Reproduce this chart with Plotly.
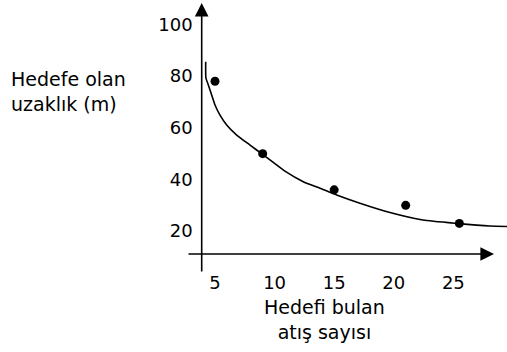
"""Hedefe olan uzaklık vs hedefi bulan atış sayısı."""

import plotly.graph_objects as go

# measured points
shots = [5, 9, 15, 21, 25.5]
distance = [78, 50, 36, 30, 23]

# fitted curve
curve_x = [4.22, 4.24, 4.44, 4.72, 5.0, 5.42, 5.98, 6.82, 7.94, 9.05, 9.89,
           10.87, 12.41, 13.81, 15.21, 17.16, 19.68, 22.45, 25.28, 28.07, 29.5]
curve_y = [85.6, 79.2, 76.6, 72.7, 68.8, 64.9, 61.1, 57.2, 53.3, 49.5, 46.6,
           43.2, 39.1, 36.6, 34.0, 30.8, 27.2, 24.3, 23.0, 22.0, 21.8]

x_ticks = [5, 10, 15, 20, 25]
y_ticks = [20, 40, 60, 80, 100]

W, H = 507, 352
FONT = "DejaVu Sans"


def px_x(v):
    return v / W


def px_y(v):
    return 1 - v / H


fig = go.Figure()

fig.add_trace(go.Scatter(
    x=curve_x, y=curve_y, mode="lines",
    line=dict(color="black", width=1.6, shape="spline", smoothing=0.5),
    hoverinfo="skip",
))
fig.add_trace(go.Scatter(
    x=shots, y=distance, mode="markers",
    marker=dict(color="black", size=9),
))

# axis lines with arrow heads
fig.add_annotation(x=px_x(201.7), y=px_y(3), xref="paper", yref="paper",
                   ax=0, ay=270, axref="pixel", ayref="pixel", text="",
                   showarrow=True, arrowhead=2, arrowsize=1.7, arrowwidth=1.6,
                   arrowcolor="black", standoff=0)
fig.add_annotation(x=px_x(494), y=px_y(254), xref="paper", yref="paper",
                   ax=-307, ay=0, axref="pixel", ayref="pixel", text="",
                   showarrow=True, arrowhead=2, arrowsize=1.7, arrowwidth=1.6,
                   arrowcolor="black", standoff=0)

# axis titles
fig.add_annotation(x=px_x(9), y=px_y(66), xref="paper", yref="paper",
                   text="Hedefe olan<br>uzaklık (m)", showarrow=False,
                   xanchor="left", yanchor="top", align="left",
                   font=dict(family=FONT, size=19, color="black"))
fig.add_annotation(x=px_x(324), y=px_y(294), xref="paper", yref="paper",
                   text="Hedefi bulan<br>atış sayısı", showarrow=False,
                   xanchor="center", yanchor="top", align="center",
                   font=dict(family=FONT, size=19, color="black"))

fig.update_layout(
    width=W, height=H,
    margin=dict(l=0, r=0, t=0, b=0),
    paper_bgcolor="white", plot_bgcolor="white",
    showlegend=False,
    font=dict(family=FONT, size=18, color="black"),
    xaxis=dict(
        domain=[187 / W, 1], range=[2.651, 29.5],
        anchor="free", position=px_y(254),
        tickvals=x_ticks, ticks="", showline=False, showgrid=False,
        zeroline=False, ticklabelstandoff=16, automargin=False,
    ),
    yaxis=dict(
        domain=[px_y(273), px_y(2)], range=[3.80, 108.69],
        anchor="free", position=px_x(201.7),
        tickvals=y_ticks, ticks="", showline=False, showgrid=False,
        zeroline=False, ticklabelstandoff=9, automargin=False,
    ),
)

# page body margin would shift the figure by 8px
fig.write_html("out.html", config={"displayModeBar": False},
               post_script="document.body.style.margin = '0';")
